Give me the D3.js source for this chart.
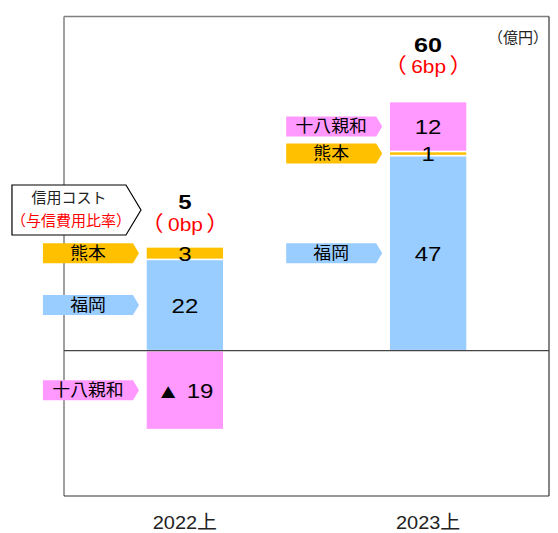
<!DOCTYPE html>
<html><head><meta charset="utf-8">
<script src="https://cdn.jsdelivr.net/npm/d3@7"></script>
<style>
body{margin:0;background:#fff;}
text{font-family:"Liberation Sans","Noto Sans CJK JP",sans-serif;}
</style></head>
<body><svg id="c" width="558" height="533"></svg>
<script>
const categories = ["2022上", "2023上"];
const seriesNames = ["福岡", "熊本", "十八親和"];
const fukuoka = [22, 47];
const kumamoto = [3, 1];
const juhachi = [-19, 12];
const totals = [5, 60];
const bpValues = ["0bp", "6bp"];
const colors = ["#99CCFF", "#FFC000", "#FF99FF"];

const svg = d3.select("#c");
const L = 64, R = 549, T = 16.5, B = 496;

const x = d3.scaleBand().domain(categories).range([L, R]).paddingInner(0.68).paddingOuter(0.337);
const y = d3.scaleLinear().domain([-35.0, 80.5]).range([B, T]);

const rows = categories.map((c, i) => ({cat: c, "福岡": fukuoka[i], "熊本": kumamoto[i], "十八親和": juhachi[i]}));
const stack = d3.stack().keys(seriesNames).offset(d3.stackOffsetDiverging)(rows);

function txt(px, py, str, size, fill, sx, opts) {
  const t = svg.append("text")
    .attr("transform", `translate(${px},${py}) scale(${sx},1)`)
    .attr("text-anchor", "middle").attr("font-size", size).attr("fill", fill);
  if (opts && opts.central) t.attr("dominant-baseline", "central");
  if (opts && opts.bold) t.attr("font-weight", "bold");
  if (str !== null) t.text(str);
  return t;
}

// frame
svg.append("line").attr("x1", L).attr("x2", R).attr("y1", T).attr("y2", T).attr("stroke", "#808080").attr("stroke-width", 1.5);
svg.append("line").attr("x1", L).attr("x2", L).attr("y1", T).attr("y2", B).attr("stroke", "#808080").attr("stroke-width", 1.5);
svg.append("line").attr("x1", R).attr("x2", R).attr("y1", T).attr("y2", B).attr("stroke", "#333").attr("stroke-width", 1.2);
svg.append("line").attr("x1", L).attr("x2", R).attr("y1", B).attr("y2", B).attr("stroke", "#333").attr("stroke-width", 1.2);

// bars
stack.forEach((s, si) => {
  svg.append("g").selectAll("rect").data(s).join("rect")
    .attr("x", d => x(d.data.cat))
    .attr("width", x.bandwidth())
    .attr("y", d => y(Math.max(d[0], d[1])))
    .attr("height", d => Math.abs(y(d[0]) - y(d[1])))
    .attr("fill", colors[si])
    .attr("stroke", "#fff").attr("stroke-width", 1.5);
});

// zero line
svg.append("line").attr("x1", L).attr("x2", R).attr("y1", y(0)).attr("y2", y(0)).attr("stroke", "#444").attr("stroke-width", 1.2);

// value labels and tags
const tagW = 96, tagTip = 6, tagH = 20, tagGap = 7;
stack.forEach((s, si) => {
  s.forEach((d, ci) => {
    const v = d.data[s.key];
    const cy = (y(d[0]) + y(d[1])) / 2;
    const bx = x(d.data.cat);
    txt(bx + x.bandwidth() / 2, cy + 1, v < 0 ? "▲ " + Math.abs(v) : String(v), 20, "#000", 1.2, {central: true});
    const tipX = bx - tagGap, x0 = tipX - tagW;
    svg.append("path")
      .attr("d", `M${x0},${cy - tagH / 2}H${tipX - tagTip}L${tipX},${cy}L${tipX - tagTip},${cy + tagH / 2}H${x0}Z`)
      .attr("fill", colors[si]);
    txt(x0 + (tagW - tagTip) / 2, cy, s.key, 17, "#000", 1.05, {central: true});
  });
});

// totals
const totalGap = [37.5, 50], bpGap = [16.3, 28.5], totalSize = [20, 21];
categories.forEach((c, i) => {
  const top = y(d3.max(stack, s => s[i][1]));
  const cx = x(c) + x.bandwidth() / 2;
  txt(cx, top - totalGap[i], String(totals[i]), totalSize[i], "#000", 1.2, {bold: true});
  const t = txt(cx, top - bpGap[i], null, 19, "#FF0000", 1.1);
  t.append("tspan").attr("font-family", "Noto Sans CJK JP").attr("font-size", 21).text("（");
  t.append("tspan").attr("dx", 4).text(bpValues[i]);
  t.append("tspan").attr("dx", 3).attr("font-family", "Noto Sans CJK JP").attr("font-size", 21).text("）");
  txt(cx, 529, c, 19, "#222", 1.05);
});

// unit
txt(518, 43, "（億円）", 15, "#222", 1);

// callout
const cTip = x(categories[0]) - 5, cW = 129, cPt = 15, cy0 = 210, cH = 50;
svg.append("path")
  .attr("d", `M${cTip - cW},${cy0 - cH / 2}H${cTip - cPt}L${cTip},${cy0}L${cTip - cPt},${cy0 + cH / 2}H${cTip - cW}Z`)
  .attr("fill", "#fff").attr("stroke", "#000").attr("stroke-width", 1.2);
txt(cTip - cW + (cW - cPt) / 2, cy0 - 7, "信用コスト", 15, "#222", 1);
txt(cTip - cW + (cW - cPt) / 2 + 2, cy0 + 16, "（与信費用比率）", 15, "#FF0000", 1);
</script></body></html>
